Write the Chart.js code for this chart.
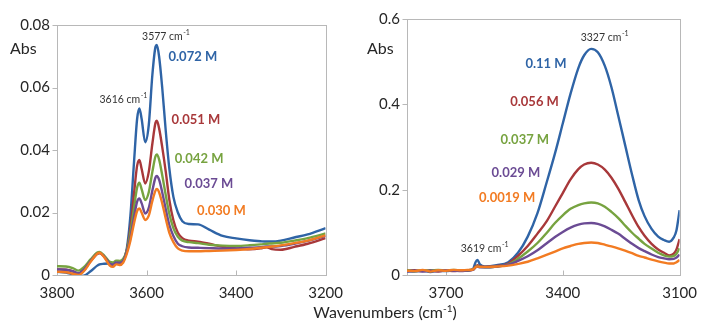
<!DOCTYPE html>
<html>
<head>
<meta charset="utf-8">
<script src="https://cdn.jsdelivr.net/npm/chart.js@4.4.1/dist/chart.umd.min.js"></script>
<style>
  html, body { margin: 0; padding: 0; background: #fff; }
  #wrap { position: relative; width: 706px; height: 322px; overflow: hidden; font-family: Lato, "Open Sans", sans-serif; }
  #leftBox { position: absolute; left: 0; top: 0; width: 352px; height: 322px; }
  #rightBox { position: absolute; left: 354px; top: 0; width: 352px; height: 322px; }
  #xtitle { position: absolute; left: 385px; top: 303px; transform: translateX(-50%); white-space: nowrap;
            font: 16px Lato, "Open Sans", sans-serif; color: #262626; line-height: 18px; }
  #xtitle sup { font-size: 10px; line-height: 0; vertical-align: 6px; }
</style>
</head>
<body>
<div id="wrap">
  <div id="leftBox"><canvas id="left" width="352" height="322"></canvas></div>
  <div id="rightBox"><canvas id="right" width="352" height="322"></canvas></div>
  <div id="xtitle">Wavenumbers (cm<sup>-1</sup>)</div>
</div>
<script>
// ---- Left panel: OH stretch region, wavenumber grid (cm-1) and absorbance per concentration
const leftWn = [3800, 3780, 3765, 3752, 3740, 3725, 3710, 3705, 3695, 3682, 3675, 3668, 3660, 3652, 3644, 3636,
  3628, 3621, 3616, 3611, 3603, 3595, 3587, 3580, 3577, 3572, 3565, 3557, 3549, 3540, 3530, 3520, 3505, 3485,
  3460, 3430, 3400, 3370, 3345, 3332, 3320, 3300, 3270, 3240, 3200];
const left072 = [0.0010, 0.0008, 0.0002, -0.0003, -0.0002, 0.0012, 0.0030, 0.0034, 0.0036, 0.0037, 0.0037, 0.0037,
  0.0039, 0.0045, 0.0085, 0.0190, 0.0360, 0.0500, 0.0533, 0.0500, 0.0425, 0.0480, 0.0640, 0.0730, 0.0736, 0.0700,
  0.0600, 0.0460, 0.0340, 0.0250, 0.0200, 0.0172, 0.0163, 0.0162, 0.0145, 0.0125, 0.0117, 0.0111, 0.0108, 0.0107,
  0.0107, 0.0110, 0.0120, 0.0130, 0.0150];
const left051 = [0.0018, 0.0017, 0.0012, 0.0004, 0.0015, 0.0045, 0.0068, 0.0070, 0.0060, 0.0035, 0.0030, 0.0038,
  0.0036, 0.0045, 0.0080, 0.0150, 0.0260, 0.0350, 0.0368, 0.0340, 0.0293, 0.0330, 0.0420, 0.0487, 0.0494, 0.0470,
  0.0410, 0.0330, 0.0240, 0.0175, 0.0135, 0.0118, 0.0110, 0.0107, 0.0100, 0.0090, 0.0085, 0.0082, 0.0085, 0.0089,
  0.0083, 0.0081, 0.0090, 0.0100, 0.0118];
const left042 = [0.0028, 0.0027, 0.0022, 0.0014, 0.0025, 0.0050, 0.0072, 0.0074, 0.0063, 0.0042, 0.0040, 0.0046,
  0.0045, 0.0052, 0.0080, 0.0135, 0.0215, 0.0280, 0.0295, 0.0275, 0.0240, 0.0265, 0.0330, 0.0380, 0.0386, 0.0370,
  0.0320, 0.0255, 0.0195, 0.0150, 0.0122, 0.0110, 0.0105, 0.0102, 0.0097, 0.0094, 0.0093, 0.0095, 0.0098, 0.0100,
  0.0101, 0.0103, 0.0110, 0.0118, 0.0133];
const left037 = [0.0018, 0.0017, 0.0012, 0.0006, 0.0017, 0.0045, 0.0068, 0.0070, 0.0060, 0.0036, 0.0033, 0.0040,
  0.0039, 0.0046, 0.0075, 0.0120, 0.0185, 0.0235, 0.0245, 0.0230, 0.0197, 0.0215, 0.0270, 0.0312, 0.0317, 0.0305,
  0.0265, 0.0210, 0.0160, 0.0125, 0.0100, 0.0092, 0.0088, 0.0087, 0.0086, 0.0085, 0.0085, 0.0087, 0.0089, 0.0091,
  0.0091, 0.0093, 0.0100, 0.0109, 0.0125];
const left030 = [0.0010, 0.0009, 0.0004, 0.0000, 0.0012, 0.0042, 0.0068, 0.0071, 0.0058, 0.0030, 0.0026, 0.0034,
  0.0032, 0.0040, 0.0068, 0.0110, 0.0165, 0.0205, 0.0213, 0.0200, 0.0176, 0.0190, 0.0237, 0.0270, 0.0275, 0.0265,
  0.0230, 0.0180, 0.0135, 0.0105, 0.0085, 0.0078, 0.0076, 0.0076, 0.0077, 0.0078, 0.0080, 0.0083, 0.0087, 0.0089,
  0.0091, 0.0095, 0.0102, 0.0110, 0.0127];
const leftLabels = ['0.072 M', '0.051 M', '0.042 M', '0.037 M', '0.030 M'];
const leftXTicks = [3800, 3600, 3400, 3200];
const leftYTicks = [0, 0.02, 0.04, 0.06, 0.08];

// ---- Right panel: broad associated band
const rightWn = [3800, 3780, 3760, 3740, 3720, 3700, 3680, 3660, 3645, 3630, 3624, 3619, 3613, 3600, 3570, 3540,
  3515, 3490, 3465, 3442, 3420, 3400, 3380, 3360, 3345, 3327, 3310, 3292, 3275, 3258, 3240, 3222, 3205, 3190,
  3172, 3155, 3140, 3127, 3115, 3108, 3100];
const right11 = [0.009, 0.008, 0.010, 0.007, 0.010, 0.009, 0.011, 0.010, 0.011, 0.015, 0.030, 0.035, 0.025, 0.020,
  0.023, 0.030, 0.052, 0.090, 0.145, 0.215, 0.285, 0.355, 0.425, 0.485, 0.515, 0.530, 0.522, 0.490, 0.440, 0.375,
  0.305, 0.235, 0.175, 0.138, 0.108, 0.090, 0.082, 0.078, 0.088, 0.105, 0.152];
const right056 = [0.010, 0.011, 0.009, 0.011, 0.008, 0.011, 0.009, 0.011, 0.010, 0.013, 0.020, 0.023, 0.020, 0.019,
  0.021, 0.027, 0.045, 0.068, 0.097, 0.125, 0.160, 0.192, 0.224, 0.248, 0.259, 0.263, 0.259, 0.247, 0.228, 0.203,
  0.172, 0.140, 0.112, 0.092, 0.073, 0.060, 0.052, 0.046, 0.050, 0.060, 0.084];
const right037 = [0.011, 0.009, 0.011, 0.010, 0.012, 0.010, 0.012, 0.010, 0.011, 0.013, 0.019, 0.021, 0.019, 0.018,
  0.020, 0.025, 0.038, 0.055, 0.075, 0.098, 0.122, 0.140, 0.155, 0.164, 0.168, 0.170, 0.168, 0.160, 0.148, 0.134,
  0.116, 0.099, 0.085, 0.073, 0.062, 0.052, 0.046, 0.043, 0.045, 0.050, 0.0625];
const right029 = [0.008, 0.010, 0.008, 0.010, 0.009, 0.011, 0.010, 0.009, 0.011, 0.012, 0.018, 0.020, 0.018, 0.018,
  0.020, 0.024, 0.033, 0.044, 0.058, 0.074, 0.089, 0.101, 0.111, 0.118, 0.121, 0.122, 0.120, 0.114, 0.106, 0.097,
  0.085, 0.073, 0.063, 0.056, 0.048, 0.042, 0.039, 0.037, 0.038, 0.041, 0.048];
const right0019 = [0.010, 0.009, 0.012, 0.008, 0.011, 0.010, 0.012, 0.011, 0.012, 0.013, 0.018, 0.020, 0.019, 0.019,
  0.020, 0.022, 0.026, 0.031, 0.039, 0.047, 0.055, 0.0625, 0.068, 0.073, 0.075, 0.076, 0.075, 0.071, 0.067, 0.0625,
  0.057, 0.051, 0.045, 0.041, 0.036, 0.032, 0.029, 0.027, 0.027, 0.030, 0.035];
const rightLabels = ['0.11 M', '0.056 M', '0.037 M', '0.029 M', '0.0019 M'];
const rightXTicks = [3700, 3400, 3100];
const rightYTicks = [0, 0.2, 0.4, 0.6];

const colors = ['#2f64a6', '#a8383a', '#77a340', '#6b4b94', '#f27b22'];
const FONT = 'Lato, "Open Sans", sans-serif';

// Light box around the plot area, outward y ticks and inward x ticks
const framePlugin = {
  id: 'frame',
  beforeDatasetsDraw(chart) {
    const { ctx, chartArea: a, scales: { x, y } } = chart;
    ctx.save();
    ctx.strokeStyle = '#b8b8b8';
    ctx.lineWidth = 1;
    const L = Math.round(a.left) + 0.5, R = Math.round(a.right) + 0.5;
    const T = Math.round(a.top) + 0.5, B = Math.round(a.bottom) + 0.5;
    ctx.strokeRect(L, T, R - L, B - T);
    ctx.beginPath();
    y.ticks.forEach(t => {
      const py = Math.round(y.getPixelForValue(t.value)) + 0.5;
      ctx.moveTo(L - 5, py); ctx.lineTo(L, py);
    });
    x.ticks.forEach(t => {
      const px = Math.round(x.getPixelForValue(t.value)) + 0.5;
      ctx.moveTo(px, B); ctx.lineTo(px, B - 5);
    });
    ctx.stroke();
    ctx.restore();
  }
};

// Text notes placed in data coordinates, plus the "Abs" axis caption
const notesPlugin = {
  id: 'notes',
  afterDatasetsDraw(chart, args, opts) {
    const { ctx, chartArea: a, scales: { x, y } } = chart;
    ctx.save();
    ctx.textBaseline = 'middle';
    ctx.textAlign = 'left';
    ctx.fillStyle = '#262626';
    ctx.font = '16px ' + FONT;
    ctx.fillText('Abs', a.left - opts.absOffset, 49);
    (opts.items || []).forEach(it => {
      const px = x.getPixelForValue(it.wn);
      const py = y.getPixelForValue(it.abs);
      ctx.fillStyle = it.color;
      ctx.font = (it.bold ? 'bold 13px ' : '10.5px ') + FONT;
      ctx.fillText(it.text, px, py);
      if (it.sup) {
        const w = ctx.measureText(it.text).width;
        ctx.font = '7px ' + FONT;
        ctx.fillText(it.sup, px + w + 0.5, py - 4);
      }
    });
    ctx.restore();
  }
};

function makeSeries(wn, values, i, label) {
  return {
    label,
    data: wn.map((w, k) => ({ x: w, y: values[k] })),
    borderColor: colors[i],
    borderWidth: 2.4,
    pointRadius: 0,
    cubicInterpolationMode: 'monotone',
    fill: false,
    order: i === 0 ? 5 : 5 - i
  };
}

function makeChart(id, cfg) {
  return new Chart(document.getElementById(id), {
    type: 'line',
    data: { datasets: cfg.series.map((v, i) => makeSeries(cfg.wn, v, i, cfg.labels[i])) },
    plugins: [framePlugin, notesPlugin],
    options: {
      responsive: false,
      animation: false,
      events: [],
      layout: { padding: cfg.padding },
      plugins: {
        legend: { display: false },
        tooltip: { enabled: false },
        notes: { items: cfg.notes, absOffset: cfg.absOffset }
      },
      scales: {
        x: {
          type: 'linear',
          reverse: true,
          min: cfg.xMin, max: cfg.xMax,
          border: { display: false },
          grid: { display: false, drawTicks: false },
          afterBuildTicks: s => { s.ticks = cfg.xTicks.map(v => ({ value: v })); },
          afterFit: s => { s.height = 47; },
          ticks: { padding: 9, color: '#262626', font: { family: FONT, size: 15 }, maxRotation: 0, callback: v => String(v) }
        },
        y: {
          min: cfg.yMin, max: cfg.yMax,
          border: { display: false },
          grid: { display: false, drawTicks: false },
          afterBuildTicks: s => { s.ticks = cfg.yTicks.map(v => ({ value: v })); },
          afterFit: s => { s.width = cfg.yWidth; },
          ticks: { padding: 7, color: '#262626', font: { family: FONT, size: 15 }, callback: v => String(v) }
        }
      }
    }
  });
}

const cmColor = '#333333';

makeChart('left', {
  wn: leftWn,
  series: [left072, left051, left042, left037, left030],
  labels: leftLabels,
  xMin: 3200, xMax: 3800, xTicks: leftXTicks,
  yMin: 0, yMax: 0.08, yTicks: leftYTicks,
  yWidth: 57,
  padding: { left: 0, right: 22, top: 25, bottom: 0 },
  absOffset: 47,
  notes: [
    { text: '3577 cm', sup: '-1', wn: 3610, abs: 0.0763, color: cmColor },
    { text: '3616 cm', sup: '-1', wn: 3705, abs: 0.0560, color: cmColor },
    { text: leftLabels[0], wn: 3551, abs: 0.0697, color: colors[0], bold: true },
    { text: leftLabels[1], wn: 3544, abs: 0.0496, color: colors[1], bold: true },
    { text: leftLabels[2], wn: 3537, abs: 0.0371, color: colors[2], bold: true },
    { text: leftLabels[3], wn: 3515, abs: 0.0291, color: colors[3], bold: true },
    { text: leftLabels[4], wn: 3487, abs: 0.0206, color: colors[4], bold: true }
  ]
});

makeChart('right', {
  wn: rightWn,
  series: [right11, right056, right037, right029, right0019],
  labels: rightLabels,
  xMin: 3100, xMax: 3800, xTicks: rightXTicks,
  yMin: 0, yMax: 0.6, yTicks: rightYTicks,
  yWidth: 53,
  padding: { left: 0, right: 18, top: 19, bottom: 0 },
  absOffset: 40,
  notes: [
    { text: '3327 cm', sup: '-1', wn: 3354, abs: 0.557, color: cmColor },
    { text: '3619 cm', sup: '-1', wn: 3662, abs: 0.0625, color: cmColor },
    { text: rightLabels[0], wn: 3496, abs: 0.496, color: colors[0], bold: true },
    { text: rightLabels[1], wn: 3535, abs: 0.406, color: colors[1], bold: true },
    { text: rightLabels[2], wn: 3560, abs: 0.316, color: colors[2], bold: true },
    { text: rightLabels[3], wn: 3583, abs: 0.240, color: colors[3], bold: true },
    { text: rightLabels[4], wn: 3615, abs: 0.182, color: colors[4], bold: true }
  ]
});
</script>
</body>
</html>
